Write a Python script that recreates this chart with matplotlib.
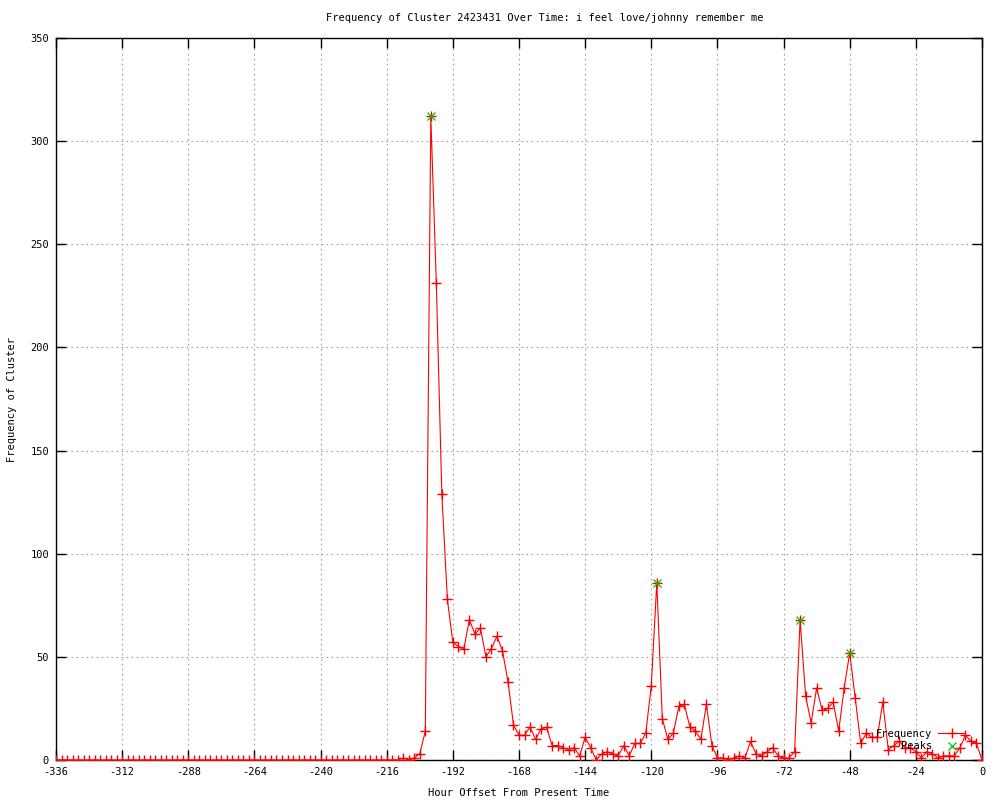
import matplotlib
matplotlib.use("Agg")
import matplotlib.pyplot as plt

plt.rcParams['font.family'] = ['DejaVu Sans Mono']
plt.rcParams['axes.unicode_minus'] = False

hours = list(range(-336, 1, 2))
frequency = [
    0, 0, 0, 0, 0, 0, 0, 0, 0, 0, 0, 0, 0, 0, 0, 0, 0, 0, 0, 0,
    0, 0, 0, 0, 0, 0, 0, 0, 0, 0, 0, 0, 0, 0, 0, 0, 0, 0, 0, 0,
    0, 0, 0, 0, 0, 0, 0, 0, 0, 0, 0, 0, 0, 0, 0, 0, 0, 0, 0, 0,
    0,
    0, 0, 1, 0, 1, 3, 14,
    312, 231, 129, 78, 57, 55, 54, 68, 61, 64,
    50, 54, 60, 53, 38, 17, 12, 12, 16, 10,
    15, 16, 7, 7, 6, 5, 6, 2, 11, 6,
    0, 3, 4, 3, 2, 7, 2, 8, 8, 13,
    36, 86, 20, 10, 13, 26, 27, 16, 14, 10,
    27, 7, 1, 1, 0, 1, 2, 1, 9, 3,
    2, 4, 6, 2, 1, 1, 4, 68, 31, 18,
    35, 24, 25, 28, 14, 35, 52, 30, 8, 13,
    11, 11, 28, 5, 7, 9, 6, 6, 4, 1,
    4, 3, 1, 2, 2, 2, 6, 12, 9, 8, 0,
]
peak_hours = [-200, -118, -66, -48]
peak_values = [312, 86, 68, 52]

title = "Frequency of Cluster 2423431 Over Time: i feel love/johnny remember me"
xticks = list(range(-336, 1, 24))
yticks = list(range(0, 351, 50))

fig = plt.figure(figsize=(10, 8), dpi=100)
ax = fig.add_axes([0.056, 0.05, 0.926, 0.9025])

ax.plot(hours, frequency, color='#ff0000', lw=0.8, marker='+', ms=6.5, mew=1.0,
        label='Frequency', zorder=3)
ax.plot(peak_hours, peak_values, ls='none', color='#00c000', marker='x', ms=5.5,
        mew=0.9, label='Peaks', zorder=4)

ax.set_xlim(-336, 0)
ax.set_ylim(0, 350)
ax.set_xticks(xticks)
ax.set_yticks(yticks)
ax.tick_params(direction='in', length=7, width=1, top=True, right=True,
               labelsize=7.5, pad=5)
ax.grid(True, color='#a0a0a0', linestyle=(0, (1.5, 3)), linewidth=0.8)
for s in ax.spines.values():
    s.set_linewidth(1)

ax.set_xlabel('Hour Offset From Present Time', fontsize=7.5, labelpad=8)
fig.text(0.012, 0.5, 'Frequency of Cluster', rotation=90, fontsize=7.5,
         ha='center', va='center')
fig.text(0.545, 1 - 18 / 800, title, fontsize=7.5, ha='center', va='center')

ax.legend(loc='lower right', bbox_to_anchor=(0.982, 0.012), frameon=False,
          markerfirst=False, fontsize=7.5, handlelength=2.6, borderpad=0,
          borderaxespad=0, labelspacing=0.25, handletextpad=0.6)

fig.savefig('out.png', dpi=100)
